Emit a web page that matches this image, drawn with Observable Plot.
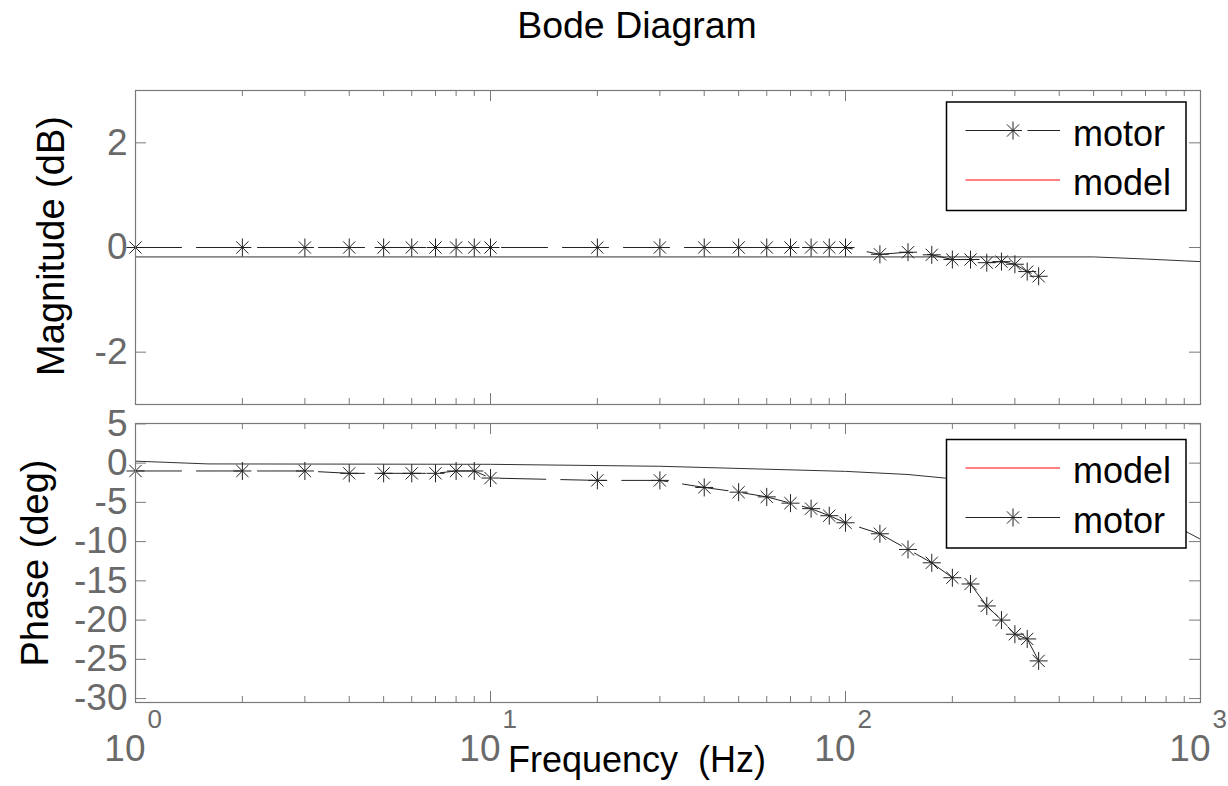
<!DOCTYPE html>
<html><head><meta charset="utf-8">
<script src="https://cdn.jsdelivr.net/npm/d3@7"></script>
<script src="https://cdn.jsdelivr.net/npm/@observablehq/plot@0.6"></script>
<style>
body{margin:0;background:#fff;}
#wrap{position:relative;width:1228px;height:786px;font-family:"Liberation Sans",Arial,Helvetica,sans-serif;}
#wrap > svg{position:absolute;left:0;top:0;}
</style></head><body><div id="wrap"></div>
<script>
// ---- data ----
const motorFreq  = [1,2,3,4,5,6,7,8,9,10,20,30,40,50,60,70,80,90,100,125,150,175,200,225,250,275,300,325,350];
const motorMag   = [0,0,0,0,0,0,0,0,0,0,0,0,0,0,0,0,0,0,0,-0.13,-0.09,-0.14,-0.23,-0.23,-0.29,-0.27,-0.32,-0.46,-0.55];
const motorPhase = [-1.0,-1.0,-1.0,-1.3,-1.3,-1.3,-1.3,-1.0,-1.0,-1.9,-2.2,-2.2,-3.1,-3.7,-4.3,-5.1,-5.8,-6.7,-7.6,-9.0,-11.0,-12.7,-14.6,-15.4,-18.2,-20.0,-21.8,-22.4,-25.2];
const modelFreq  = [1,1.6,10,30,100,150,190,300,500,700,900,1000];
const modelMag   = [-0.18,-0.18,-0.18,-0.18,-0.18,-0.18,-0.18,-0.18,-0.18,-0.22,-0.255,-0.27];
const modelPhase = [0.25,-0.1,-0.15,-0.4,-1.05,-1.45,-1.9,-3.0,-5.0,-6.8,-8.6,-9.7];
const magTicks   = [-2,0,2];
const phaseTicks = [5,0,-5,-10,-15,-20,-25,-30];
const decadeTicks = [1,10,100,1000];
const decadeExp   = ["0","1","2","3"];
const minorTicks  = [2,3,4,5,6,7,8,9,20,30,40,50,60,70,80,90,200,300,400,500,600,700,800,900];
const seriesNames = ["motor","model"];

const motorData = motorFreq.map((f,i)=>({f, mag: motorMag[i], phase: motorPhase[i]}));
const modelData = modelFreq.map((f,i)=>({f, mag: modelMag[i], phase: modelPhase[i]}));

const W = 1228, H = 786, ML = 135, MR = 28;
const PW = W - ML - MR;
const axisGray = "#7a7a7a", labelGray = "#6a6a6a", ink = "#222222";
const FONT = "Liberation Sans, Arial, Helvetica, sans-serif";

const star8 = {draw(ctx, size){
  const r = Math.sqrt(size/Math.PI), d = r*0.68;
  ctx.moveTo(0,-r); ctx.lineTo(0,r);
  ctx.moveTo(-r,0); ctx.lineTo(r,0);
  ctx.moveTo(-d,-d); ctx.lineTo(d,d);
  ctx.moveTo(-d,d); ctx.lineTo(d,-d);
}};

function panel({mt, mb, ydomain, yticks, key, xlabels}) {
  const ph = H - mt - mb;
  const marks = [
    Plot.tickX(decadeTicks, {x: d=>d, stroke: axisGray, insetTop: ph-11}),
    Plot.tickX(decadeTicks, {x: d=>d, stroke: axisGray, insetBottom: ph-11}),
    Plot.tickX(minorTicks, {x: d=>d, stroke: axisGray, insetTop: ph-6}),
    Plot.tickX(minorTicks, {x: d=>d, stroke: axisGray, insetBottom: ph-6}),
    Plot.tickY(yticks, {y: d=>d, stroke: axisGray, insetRight: PW-11}),
    Plot.tickY(yticks, {y: d=>d, stroke: axisGray, insetLeft: PW-11}),
    Plot.text(yticks, {y: d=>d, frameAnchor: "left", dx: -8, textAnchor: "end", text: d=>String(d), fontSize: 37, fill: labelGray}),
    Plot.line(modelData, {x: "f", y: key, stroke: "#333", strokeWidth: 1}),
    Plot.line(motorData, {x: "f", y: key, stroke: ink, strokeWidth: 1, strokeDasharray: "46,15"}),
    Plot.dot(motorData, {x: "f", y: key, symbol: star8, r: 9, stroke: ink, strokeWidth: 1, fill: "none"}),
    Plot.frame({stroke: axisGray, strokeWidth: 1.2})
  ];
  if (xlabels) {
    marks.push(
      Plot.text(decadeTicks, {x: d=>d, frameAnchor: "bottom", dy: 58, lineAnchor: "bottom", dx: 10, textAnchor: "end", text: ()=>"10", fontSize: 37, fill: labelGray}),
      Plot.text(decadeTicks, {x: d=>d, frameAnchor: "bottom", dy: 25, lineAnchor: "bottom", dx: 12, textAnchor: "start", text: (d,i)=>decadeExp[i], fontSize: 26, fill: labelGray})
    );
  }
  return Plot.plot({
    width: W, height: H,
    marginLeft: ML, marginRight: MR, marginTop: mt, marginBottom: mb,
    style: {background: "transparent", overflow: "visible", fontFamily: FONT},
    x: {type: "log", domain: [1, 1000], axis: null},
    y: {domain: ydomain, axis: null},
    marks
  });
}

const wrap = document.getElementById("wrap");
wrap.append(panel({mt: 90, mb: H-404, ydomain: [-3, 3], yticks: magTicks, key: "mag", xlabels: false}));
wrap.append(panel({mt: 423, mb: H-702, ydomain: [-30.5, 5.05], yticks: phaseTicks, key: "phase", xlabels: true}));

// ---- overlay: titles, axis labels, legends ----
const svg = d3.create("svg").attr("width", W).attr("height", H)
  .style("font-family", FONT).style("overflow", "visible");
svg.append("text").attr("x", 637).attr("y", 38).attr("text-anchor", "middle")
  .attr("font-size", 37.5).attr("fill", "#000").text("Bode Diagram");
svg.append("text").attr("x", 637).attr("y", 772).attr("text-anchor", "middle")
  .attr("font-size", 36).attr("fill", "#000").style("white-space", "pre").text("Frequency  (Hz)");
svg.append("text").attr("transform", "translate(64,246) rotate(-90)").attr("text-anchor", "middle")
  .attr("font-size", 38).attr("fill", "#000").text("Magnitude (dB)");
svg.append("text").attr("transform", "translate(48,563) rotate(-90)").attr("text-anchor", "middle")
  .attr("font-size", 38).attr("fill", "#000").text("Phase (deg)");

function legend(y0, order) {
  const g = svg.append("g");
  g.append("rect").attr("x", 946.5).attr("y", y0).attr("width", 239.5).attr("height", 108.5)
    .attr("fill", "#fff").attr("stroke", "#000").attr("stroke-width", 1.5);
  order.forEach((name, i) => {
    const ly = y0 + 28.5 + i*49.5;
    if (name === "motor") {
      g.append("line").attr("x1", 965.5).attr("x2", 1060).attr("y1", ly).attr("y2", ly)
        .attr("stroke", ink).attr("stroke-width", 1).attr("stroke-dasharray", "56,6");
      g.append("path").attr("transform", `translate(1013,${ly})`)
        .attr("d", d3.symbol(star8, Math.PI*81)()).attr("stroke", ink).attr("fill", "none");
    } else {
      g.append("line").attr("x1", 965.5).attr("x2", 1060).attr("y1", ly).attr("y2", ly)
        .attr("stroke", "#ff0000").attr("stroke-width", 1);
    }
    g.append("text").attr("x", 1073).attr("y", ly + 15).attr("font-size", 36).attr("fill", "#000").text(name);
  });
}
legend(102, [seriesNames[0], seriesNames[1]]);
legend(439.5, [seriesNames[1], seriesNames[0]]);
wrap.append(svg.node());
</script></body></html>
